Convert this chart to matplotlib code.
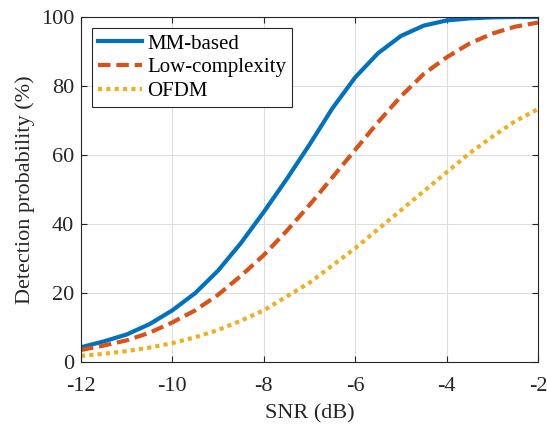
import matplotlib
matplotlib.use('Agg')
import matplotlib.pyplot as plt

plt.rcParams['font.family'] = ['Liberation Serif', 'DejaVu Serif']
plt.rcParams['axes.unicode_minus'] = False

# SNR grid (dB)
snr = [-12, -11.5, -11, -10.5, -10, -9.5, -9, -8.5, -8, -7.5, -7,
       -6.5, -6, -5.5, -5, -4.5, -4, -3.5, -3, -2.5, -2]

# Detection probability (%)
mm_based = [4.3, 6.0, 8.0, 11.0, 15.0, 20.0, 26.5, 34.5, 43.5, 53.0, 63.0,
            73.5, 82.5, 89.5, 94.5, 97.5, 99.0, 99.6, 99.9, 100.0, 100.0]
low_complexity = [3.5, 4.8, 6.3, 8.5, 11.5, 15.0, 19.5, 25.0, 31.0, 38.0, 45.5,
                  53.5, 61.5, 69.5, 77.0, 83.5, 88.3, 92.3, 95.2, 97.2, 98.4]
ofdm = [1.8, 2.4, 3.2, 4.2, 5.5, 7.2, 9.3, 12.0, 15.0, 19.0, 23.0,
        28.0, 33.0, 38.5, 44.0, 49.5, 55.0, 60.5, 65.3, 69.8, 73.3]

fig = plt.figure(figsize=(5.47, 4.25), dpi=100)
ax = fig.add_axes([0.148, 0.148, 0.8355, 0.812])

ax.plot(snr, mm_based, '-', color='#0072BD', linewidth=3, label='MM-based')
ax.plot(snr, low_complexity, '--', color='#D95319', linewidth=3,
        dashes=(3.0, 1.4), label='Low-complexity')
ax.plot(snr, ofdm, ':', color='#EDB120', linewidth=3,
        dashes=(1, 1), label='OFDM')

ax.set_xlim(-12, -2)
ax.set_ylim(0, 100)
ax.set_xticks([-12, -10, -8, -6, -4, -2])
ax.set_yticks([0, 20, 40, 60, 80, 100])

ax.grid(True, color='#dedede', linewidth=0.8)
ax.set_axisbelow(True)
ax.tick_params(direction='in', top=True, right=True, labelsize=16,
               colors='#262626', length=4, width=0.8)
ax.tick_params(axis='x', pad=11)
ax.tick_params(axis='y', pad=5)
for s in ax.spines.values():
    s.set_color('#262626')
    s.set_linewidth(0.8)

ax.set_xlabel('SNR (dB)', fontsize=16, color='#262626', labelpad=6)
ax.set_ylabel('Detection probability (%)', fontsize=16, color='#262626',
              labelpad=4)

leg = ax.legend(loc='upper left', fontsize=15, frameon=True, fancybox=False,
                edgecolor='#262626', framealpha=1, handlelength=2.1,
                borderaxespad=0.52, labelspacing=0.2, handletextpad=0.25,
                borderpad=0.3)
leg.get_frame().set_linewidth(0.8)

fig.savefig('out.png', dpi=100)
